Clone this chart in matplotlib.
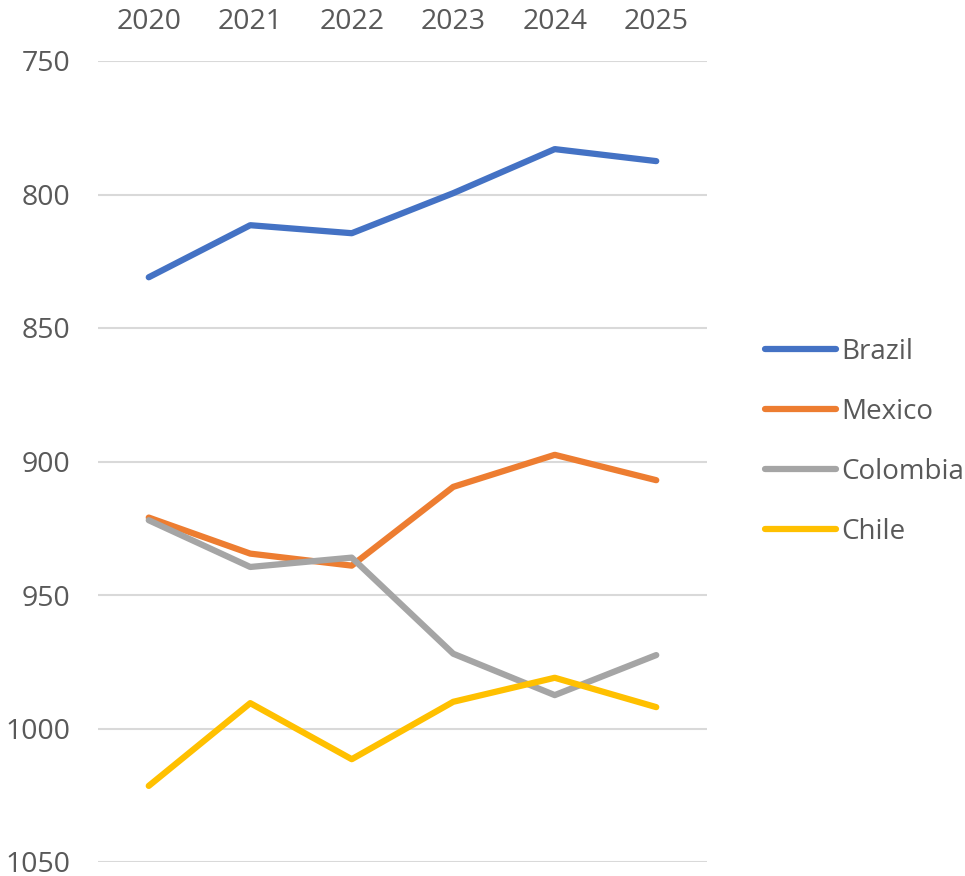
import matplotlib
matplotlib.use("Agg")
import matplotlib.pyplot as plt
from matplotlib.lines import Line2D

years = ["2020", "2021", "2022", "2023", "2024", "2025"]
brazil = [831, 811.5, 814.5, 799.5, 783, 787.5]
mexico = [921, 934.5, 939, 909.5, 897.5, 907]
colombia = [922, 939.5, 936, 972, 987.5, 972.5]
chile = [1021.5, 990.5, 1011.5, 990, 981, 992]
series = {"Brazil": brazil, "Mexico": mexico, "Colombia": colombia, "Chile": chile}
colors = {"Brazil": "#4472C4", "Mexico": "#ED7D31", "Colombia": "#A5A5A5", "Chile": "#FFC000"}
yticks = [750, 800, 850, 900, 950, 1000, 1050]

plt.rcParams['font.family'] = ['Open Sans', 'DejaVu Sans']
txt = "#595959"

fig = plt.figure(figsize=(9.65, 8.76), dpi=100)
W, H = 965, 876
ax = fig.add_axes([98 / W, 1 - 862 / H, (707 - 98) / W, (862 - 61) / H])

x = list(range(len(years)))
for name, vals in series.items():
    ax.plot(x, vals, color=colors[name], lw=4.5, solid_capstyle='round',
            solid_joinstyle='round', label=name)

ax.set_xlim(-0.5, len(years) - 0.5)
ax.set_ylim(1050, 750)
ax.set_yticks(yticks)
ax.set_yticklabels([str(v) for v in yticks])
ax.set_xticks(x)
ax.set_xticklabels(years)
ax.xaxis.tick_top()
ax.tick_params(axis='both', length=0, labelsize=20.5, colors=txt)
ax.tick_params(axis='y', pad=20)
ax.tick_params(axis='x', pad=18)
ax.grid(axis='y', color="#D9D9D9", lw=1.5)
ax.set_axisbelow(True)
for s in ax.spines.values():
    s.set_visible(False)

handles = [Line2D([0], [0], color=colors[n], lw=4.5, solid_capstyle='round') for n in series]
leg = fig.legend(handles, list(series.keys()), loc='upper left',
                 bbox_to_anchor=(740 / W, 1 - 313 / H), frameon=False,
                 fontsize=20, labelcolor=txt, handlelength=2.55, handletextpad=0.2,
                 labelspacing=1.15)

fig.savefig("out.png", dpi=100)
